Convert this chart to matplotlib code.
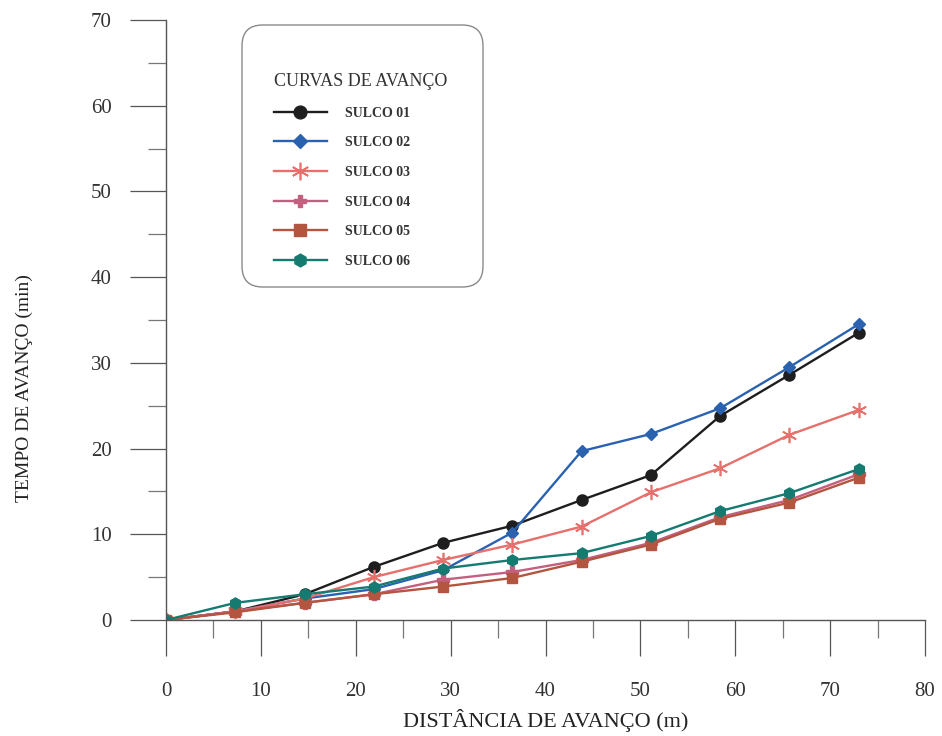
import matplotlib
matplotlib.use("Agg")
import matplotlib.pyplot as plt
from matplotlib.ticker import MultipleLocator
from matplotlib.patches import FancyBboxPatch

plt.rcParams['font.family'] = ['Liberation Serif', 'DejaVu Serif']

distancia = [0, 7.3, 14.6, 21.9, 29.2, 36.5, 43.8, 51.1, 58.4, 65.7, 73.0]
sulco01 = [0, 1.0, 3.0, 6.2, 9.0, 11.0, 14.0, 16.9, 23.8, 28.6, 33.5]
sulco02 = [0, 1.0, 2.5, 3.6, 5.8, 10.2, 19.7, 21.7, 24.7, 29.5, 34.5]
sulco03 = [0, 1.0, 2.5, 5.0, 7.0, 8.8, 10.9, 14.9, 17.7, 21.6, 24.5]
sulco04 = [0, 1.0, 2.0, 3.0, 4.7, 5.6, 7.0, 9.0, 12.0, 14.0, 17.0]
sulco05 = [0, 0.9, 2.0, 3.0, 3.9, 4.9, 6.8, 8.8, 11.8, 13.7, 16.6]
sulco06 = [0, 2.0, 3.0, 3.9, 6.0, 7.0, 7.8, 9.8, 12.7, 14.8, 17.6]
nomes = ["SULCO 01", "SULCO 02", "SULCO 03", "SULCO 04", "SULCO 05", "SULCO 06"]

W, H = 942, 736
fig = plt.figure(figsize=(W / 100, H / 100), dpi=100)
ax = fig.add_axes([166 / W, 1 - 620 / H, (925 - 166) / W, 600 / H])

styles = [
    dict(color="#1e1e1e", marker="o", ms=8),
    dict(color="#2a62b0", marker="D", ms=6.5),
    dict(color="#e5706c", marker=(6, 2, 0), ms=11, mew=1.2),
    dict(color="#c4607f", marker="P", ms=8),
    dict(color="#b3553f", marker="s", ms=7.5),
    dict(color="#157a70", marker="h", ms=8),
]
series = [sulco01, sulco02, sulco03, sulco04, sulco05, sulco06]
for ys, nm, st in zip(series, nomes, styles):
    ax.plot(distancia, ys, lw=1.7, label=nm, **st)

ax.set_xlim(0, 80)
ax.set_ylim(0, 70)
ax.xaxis.set_major_locator(MultipleLocator(10))
ax.xaxis.set_minor_locator(MultipleLocator(5))
ax.yaxis.set_major_locator(MultipleLocator(10))
ax.yaxis.set_minor_locator(MultipleLocator(5))
ax.spines['top'].set_visible(False)
ax.spines['right'].set_visible(False)
for s in ('left', 'bottom'):
    ax.spines[s].set_color('#555555')
    ax.spines[s].set_linewidth(1.0)
ax.tick_params(which='major', direction='out', length=26, width=0.9, color='#555555',
               labelsize=15, labelcolor='#333333')
ax.tick_params(axis='x', which='major', pad=19)
ax.tick_params(axis='y', which='major', pad=13)
ax.tick_params(which='minor', direction='out', length=13, width=0.9, color='#777777')
ax.set_xlabel("DISTÂNCIA DE AVANÇO (m)", fontsize=16, color='#222222')
ax.xaxis.set_label_coords(0.5, -(720 - 620) / 600)
ax.xaxis.label.set_va('center')
ax.set_ylabel("TEMPO DE AVANÇO (min)", fontsize=14, color='#222222')
ax.yaxis.set_label_coords(-(166 - 33) / 759, (620 - 388) / 600)

# legend frame (rounded box)
box = FancyBboxPatch((242 / W, 1 - 287 / H), 241 / W, 262 / H,
                     boxstyle="round,pad=0,rounding_size=0.022",
                     mutation_aspect=W / H, transform=fig.transFigure,
                     facecolor='white', edgecolor='#8a8a8a', lw=1.0, zorder=5)
fig.add_artist(box)

leg = fig.legend(loc='upper left', bbox_to_anchor=(274 / W, 1 - 73 / H),
                 title="CURVAS DE AVANÇO", fontsize=10, title_fontsize=13,
                 frameon=False, borderpad=0, borderaxespad=0,
                 labelspacing=1.2, handlelength=3.8, handletextpad=1.3,
                 markerscale=1.15)
leg._legend_box.align = "left"
leg.set_zorder(6)
for t in leg.get_texts():
    t.set_fontweight('bold')
    t.set_color('#333333')
leg.get_title().set_color('#333333')

fig.savefig("out.png", dpi=100, facecolor='white')
